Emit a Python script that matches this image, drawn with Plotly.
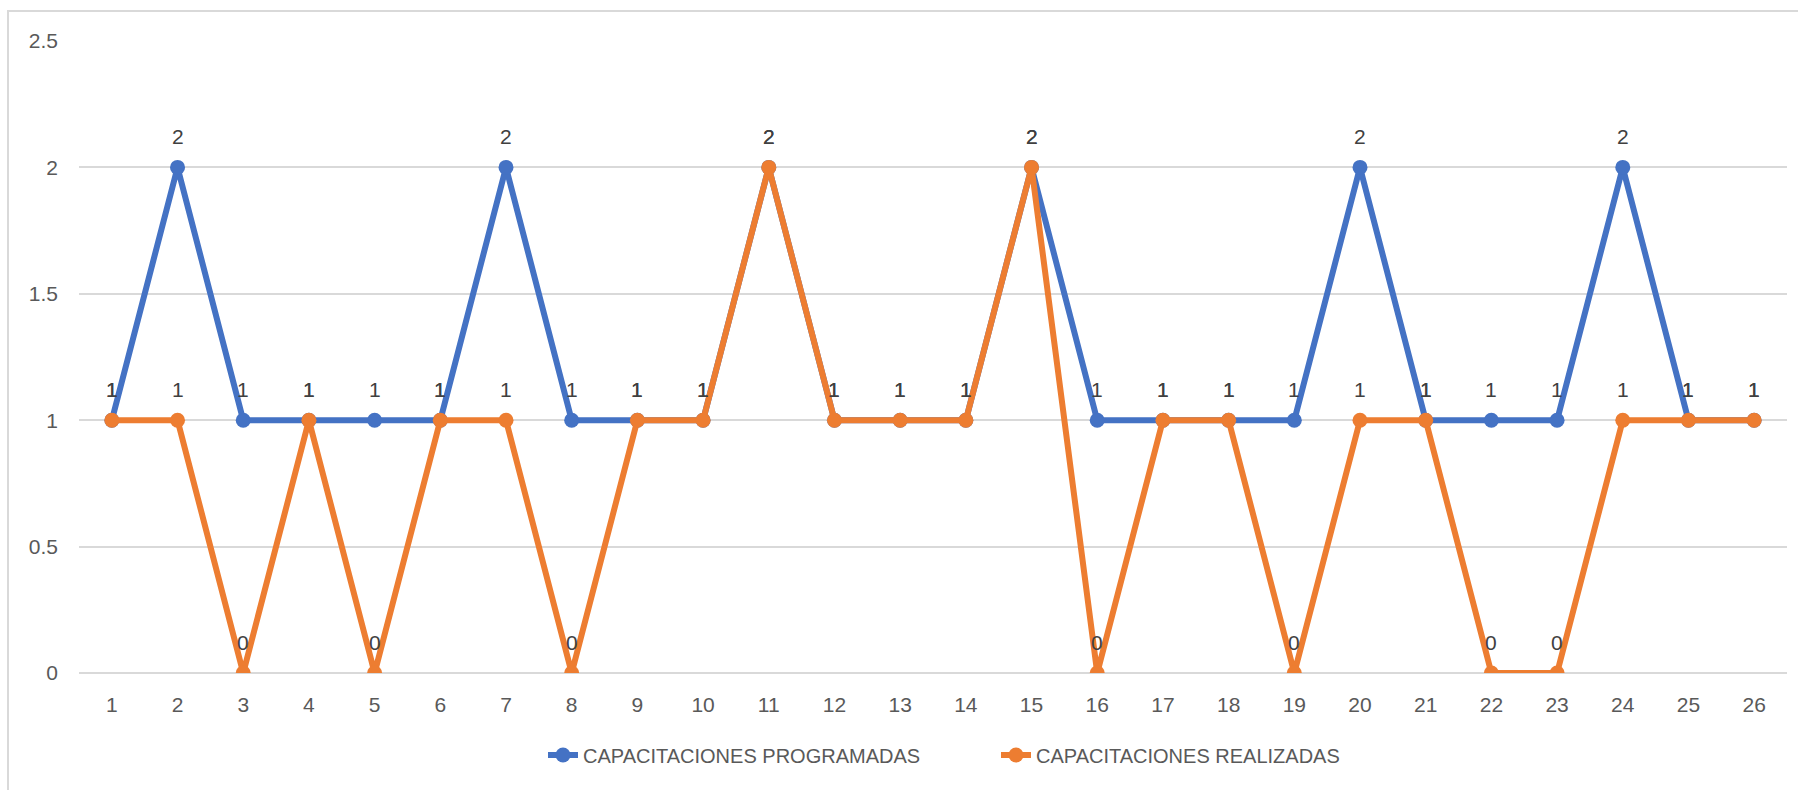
import plotly.graph_objects as go

# Training sessions per period
periodos = list(range(1, 27))
programadas = [1, 2, 1, 1, 1, 1, 2, 1, 1, 1, 2, 1, 1, 1, 2, 1, 1, 1, 1, 2, 1, 1, 1, 2, 1, 1]
realizadas = [1, 1, 0, 1, 0, 1, 1, 0, 1, 1, 2, 1, 1, 1, 2, 0, 1, 1, 0, 1, 1, 0, 0, 1, 1, 1]

AZUL = "#4472C4"
NARANJA = "#ED7D31"
GRIS_TEXTO = "#595959"
GRIS_LINEA = "#D9D9D9"
FUENTE = "Liberation Sans, Arial"

W, H = 1798, 790
L, R, T, B = 79, 11, 41, 117
pw, ph = W - L - R, H - T - B

fig = go.Figure()
fig.add_trace(go.Scatter(
    x=periodos, y=programadas, name="CAPACITACIONES PROGRAMADAS",
    mode="lines+markers", line=dict(color=AZUL, width=6),
    marker=dict(color=AZUL, size=15),
))
fig.add_trace(go.Scatter(
    x=periodos, y=realizadas, name="CAPACITACIONES REALIZADAS",
    mode="lines+markers", line=dict(color=NARANJA, width=6),
    marker=dict(color=NARANJA, size=15),
))

# value labels above each point
for serie in (programadas, realizadas):
    for x, y in zip(periodos, serie):
        fig.add_annotation(
            x=x, y=y, text=str(y), showarrow=False, yshift=31,
            font=dict(family=FUENTE, size=21, color="#404040"),
        )

# outer chart frame
fig.add_shape(
    type="rect", xref="paper", yref="paper",
    x0=(8 - L) / pw, x1=(W + 20 - L) / pw,
    y0=-(B + 20) / ph, y1=1 + (T - 11) / ph,
    line=dict(color="#D9D9D9", width=2), fillcolor="rgba(0,0,0,0)", layer="below",
)

fig.update_layout(
    width=W, height=H,
    margin=dict(l=L, r=R, t=T, b=B),
    paper_bgcolor="white", plot_bgcolor="white",
    font=dict(family=FUENTE, size=21, color=GRIS_TEXTO),
    showlegend=True,
    legend=dict(
        orientation="h", x=(543 - L) / pw, xanchor="left",
        y=-(755 - (T + ph)) / ph, yanchor="middle",
        font=dict(family=FUENTE, size=20, color=GRIS_TEXTO),
        itemwidth=30, entrywidth=408, entrywidthmode="pixels",
        bgcolor="rgba(0,0,0,0)",
    ),
    xaxis=dict(
        range=[0.5, 26.5], tickmode="array", tickvals=periodos,
        ticktext=[str(p) for p in periodos],
        showgrid=False, zeroline=False, showline=False, ticks="",
        ticklabelstandoff=17,
    ),
    yaxis=dict(
        range=[0, 2.5], tickmode="array", tickvals=[0, 0.5, 1, 1.5, 2, 2.5],
        ticktext=["0", "0.5", "1", "1.5", "2", "2.5"],
        showgrid=True, gridcolor=GRIS_LINEA, gridwidth=2,
        zeroline=True, zerolinecolor=GRIS_LINEA, zerolinewidth=2,
        showline=False, ticks="", ticklabelstandoff=20,
    ),
)

fig.write_html("out.html")
